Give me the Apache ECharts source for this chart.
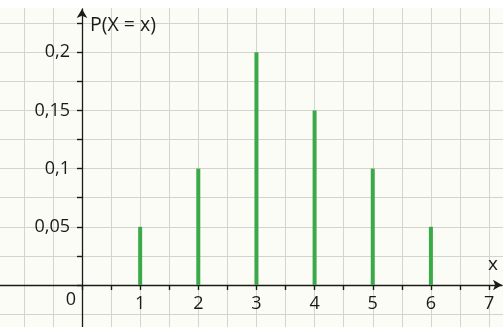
<!DOCTYPE html>
<html>
<head>
<meta charset="utf-8">
<script src="https://cdn.jsdelivr.net/npm/echarts@6/dist/echarts.min.js"></script>
<style>
  html, body { margin: 0; padding: 0; background: #fff; }
  #chart { width: 503px; height: 327px; }
</style>
</head>
<body>
<div id="chart"></div>
<script>
// values of the distribution
const xValues = [1, 2, 3, 4, 5, 6];
const probabilities = [0.05, 0.1, 0.2, 0.15, 0.1, 0.05];
// tick labels
const xTickLabels = [1, 2, 3, 4, 5, 6, 7];
const yTickLabels = [0.05, 0.1, 0.15, 0.2];

// layout: where the origin sits and how many px one unit is
const W = 503, H = 327;
const x0 = 82, y0 = 285;
const ux = 58.15;          // px per 1 on x
const uy = 58.2 / 0.05;    // px per 1 on y
const FONT = '"Open Sans", "Noto Sans", sans-serif';
const INK = '#1a1a1a';

// grid 0: paper squares, a bit larger than the canvas
const g0 = { xmin: -1.5, xmax: 7.5, ymin: -0.05, ymax: 0.25 };
// grid 1: the two axis lines with arrow heads
const g1 = { xmin: -x0 / ux, xmax: (502 - x0) / ux, ymin: -(H - y0) / uy, ymax: (y0 - 9) / uy };
// grid 2: positive quadrant, ticks + labels + bars
const g2 = { xmin: 0, xmax: 7.5, ymin: 0, ymax: 0.25 };

function gridRect(g) {
    const left = x0 + g.xmin * ux;
    const right = W - (x0 + g.xmax * ux);
    const top = y0 - g.ymax * uy;
    const bottom = H - (y0 - g.ymin * uy);
    // v6 would otherwise squeeze the grid back into the canvas
    return { left, right, top, bottom, containLabel: false, outerBoundsMode: 'none' };
}

const hidden = { show: false };

function isTick(list, v) {
    return list.some(t => Math.abs(t - v) < 1e-9);
}

const chart = echarts.init(document.getElementById('chart'), null, { renderer: 'canvas' });

chart.setOption({
    animation: false,
    grid: [
        Object.assign(gridRect(g0), { show: true, backgroundColor: '#fcfcf6', borderWidth: 0 }),
        gridRect(g1),
        gridRect(g2)
    ],
    xAxis: [
        {
            type: 'value', gridIndex: 0, min: g0.xmin, max: g0.xmax, interval: 0.5,
            axisLine: hidden, axisTick: hidden, axisLabel: hidden,
            splitLine: { show: true, lineStyle: { color: '#d3d3cf', width: 1 } }
        },
        {
            type: 'value', gridIndex: 1, min: g1.xmin, max: g1.xmax,
            axisLine: { show: true, onZero: true, symbol: ['none', 'arrow'], symbolSize: [8, 9],
                lineStyle: { color: INK, width: 1.3 } },
            axisTick: hidden, axisLabel: hidden, splitLine: hidden
        },
        {
            type: 'value', gridIndex: 2, min: g2.xmin, max: g2.xmax, interval: 0.5,
            axisLine: hidden, splitLine: hidden,
            axisTick: { show: true, inside: false, length: 5, lineStyle: { color: INK, width: 1.2 } },
            axisLabel: {
                show: true, margin: 10, color: INK, fontSize: 18, fontFamily: FONT,
                showMinLabel: true, showMaxLabel: false,
                formatter: v => isTick(xTickLabels, v) ? String(v) : ''
            }
        },
        {
            type: 'value', gridIndex: 2, min: g2.xmin, max: g2.xmax, interval: 0.5,
            axisLine: hidden, splitLine: hidden, axisLabel: hidden,
            axisTick: { show: true, inside: true, length: 5, lineStyle: { color: INK, width: 1.2 } }
        }
    ],
    yAxis: [
        {
            type: 'value', gridIndex: 0, min: g0.ymin, max: g0.ymax, interval: 0.025,
            axisLine: hidden, axisTick: hidden, axisLabel: hidden,
            splitLine: { show: true, lineStyle: { color: '#d3d3cf', width: 1 } }
        },
        {
            type: 'value', gridIndex: 1, min: g1.ymin, max: g1.ymax,
            axisLine: { show: true, onZero: true, symbol: ['none', 'arrow'], symbolSize: [8, 9],
                lineStyle: { color: INK, width: 1.3 } },
            axisTick: hidden, axisLabel: hidden, splitLine: hidden
        },
        {
            type: 'value', gridIndex: 2, min: g2.ymin, max: g2.ymax, interval: 0.025,
            axisLine: hidden, splitLine: hidden,
            axisTick: { show: true, inside: false, length: 5, lineStyle: { color: INK, width: 1.2 } },
            axisLabel: {
                show: true, margin: 12, color: INK, fontSize: 18, fontFamily: FONT,
                showMinLabel: true, showMaxLabel: false,
                formatter: v => isTick(yTickLabels, v) ? String(v).replace('.', ',') : ''
            }
        },
        {
            type: 'value', gridIndex: 2, min: g2.ymin, max: g2.ymax, interval: 0.025,
            axisLine: hidden, splitLine: hidden, axisLabel: hidden,
            axisTick: { show: true, inside: true, length: 5, lineStyle: { color: INK, width: 1.2 } }
        }
    ],
    series: [
        {
            type: 'bar',
            xAxisIndex: 2,
            yAxisIndex: 2,
            barWidth: 4,
            itemStyle: { color: '#3aaa48' },
            data: xValues.map((x, i) => [x, probabilities[i]]),
            z: 5
        }
    ],
    graphic: [
        // white band above the paper
        { type: 'rect', z: 100, shape: { x: 0, y: 0, width: W, height: 8 }, style: { fill: '#ffffff' } },
        { type: 'text', z: 101, style: { text: 'P(X = x)', x: 90, y: 25, fill: INK, fontSize: 19.5,
            fontFamily: FONT, align: 'left', verticalAlign: 'middle' } },
        { type: 'text', z: 101, style: { text: '0', x: 76, y: 300, fill: INK, fontSize: 18,
            fontFamily: FONT, align: 'right', verticalAlign: 'middle' } },
        { type: 'text', z: 101, style: { text: 'x', x: 493, y: 265, fill: INK, fontSize: 19,
            fontFamily: FONT, align: 'center', verticalAlign: 'middle' } }
    ]
});
</script>
</body>
</html>
